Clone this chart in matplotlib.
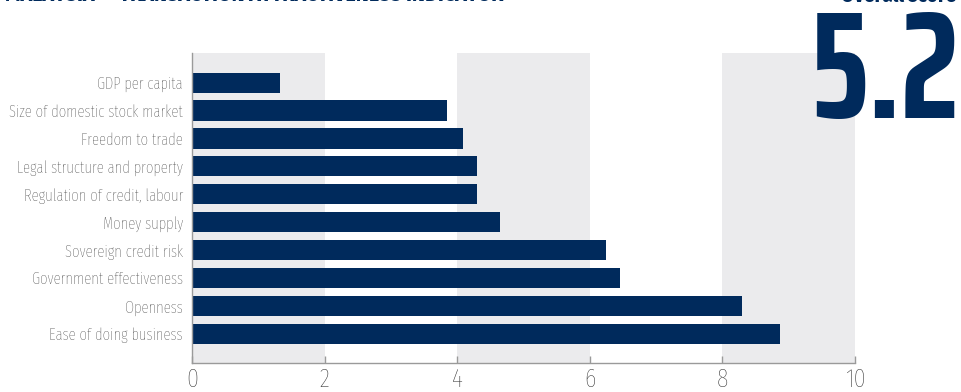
import matplotlib
matplotlib.use("Agg")
import matplotlib.pyplot as plt

categories = ["GDP per capita", "Size of domestic stock market", "Freedom to trade",
              "Legal structure and property", "Regulation of credit, labour", "Money supply",
              "Sovereign credit risk", "Government effectiveness", "Openness",
              "Ease of doing business"]
values = [1.33, 3.85, 4.09, 4.30, 4.30, 4.65, 6.24, 6.46, 8.30, 8.87]
xticks = [0, 2, 4, 6, 8, 10]
overall_score = "5.2"
title = "MALAYSIA — TRANSACTION ATTRACTIVENESS INDICATOR"
score_label = "Overall score"

COND = ["Fira Sans Condensed", "DejaVu Sans"]
XCOND = ["Fira Sans Extra Condensed", "DejaVu Sans"]
BIG = ["Saira ExtraCondensed", "Fira Sans Extra Condensed", "DejaVu Sans"]

NAVY = "#002a5c"
GREY_BAND = "#ebebed"
W, H = 962, 392
fig = plt.figure(figsize=(W / 100, H / 100), dpi=100)
ax = fig.add_axes([192 / W, 1 - 362.7 / H, (855 - 192) / W, (362.7 - 53) / H])

for x0 in range(0, 10, 4):
    ax.axvspan(x0, x0 + 2, color=GREY_BAND, lw=0, zorder=0)

ypos = list(range(len(categories)))
ax.barh(ypos, values, height=0.72, color=NAVY, zorder=2)
ax.set_xlim(0, 10)
ax.set_ylim(len(categories) - 1 + 1.03, -1.06)
ax.set_yticks(ypos)
ax.set_yticklabels(categories, fontfamily=XCOND, fontweight="light", fontsize=11.6, color="#333333")
ax.tick_params(axis="y", length=0, pad=6.5)
ax.set_xticks(xticks)
ax.set_xticklabels([str(t) for t in xticks], fontfamily=XCOND, fontweight="light", fontsize=19,
                   color="#333333")
ax.tick_params(axis="x", direction="in", length=5, color="#9a9a9a", width=1, pad=3.5)
for s in ["top", "right"]:
    ax.spines[s].set_visible(False)
for s in ["left", "bottom"]:
    ax.spines[s].set_color("#9a9a9a")
    ax.spines[s].set_linewidth(1)

fig.text(5 / W, 1 - 1 / H, title, fontfamily=COND, fontweight="bold", fontsize=15.6,
         color=NAVY, ha="left", va="baseline")
fig.text(956 / W, 1 - 2 / H, score_label, fontfamily=COND, fontweight="bold", fontsize=15,
         color=NAVY, ha="right", va="baseline")
fig.text(959 / W, 1 - 118 / H, overall_score, fontfamily=BIG, fontweight="bold", fontsize=110,
         color=NAVY, ha="right", va="baseline")

fig.savefig("out.png", dpi=100)
